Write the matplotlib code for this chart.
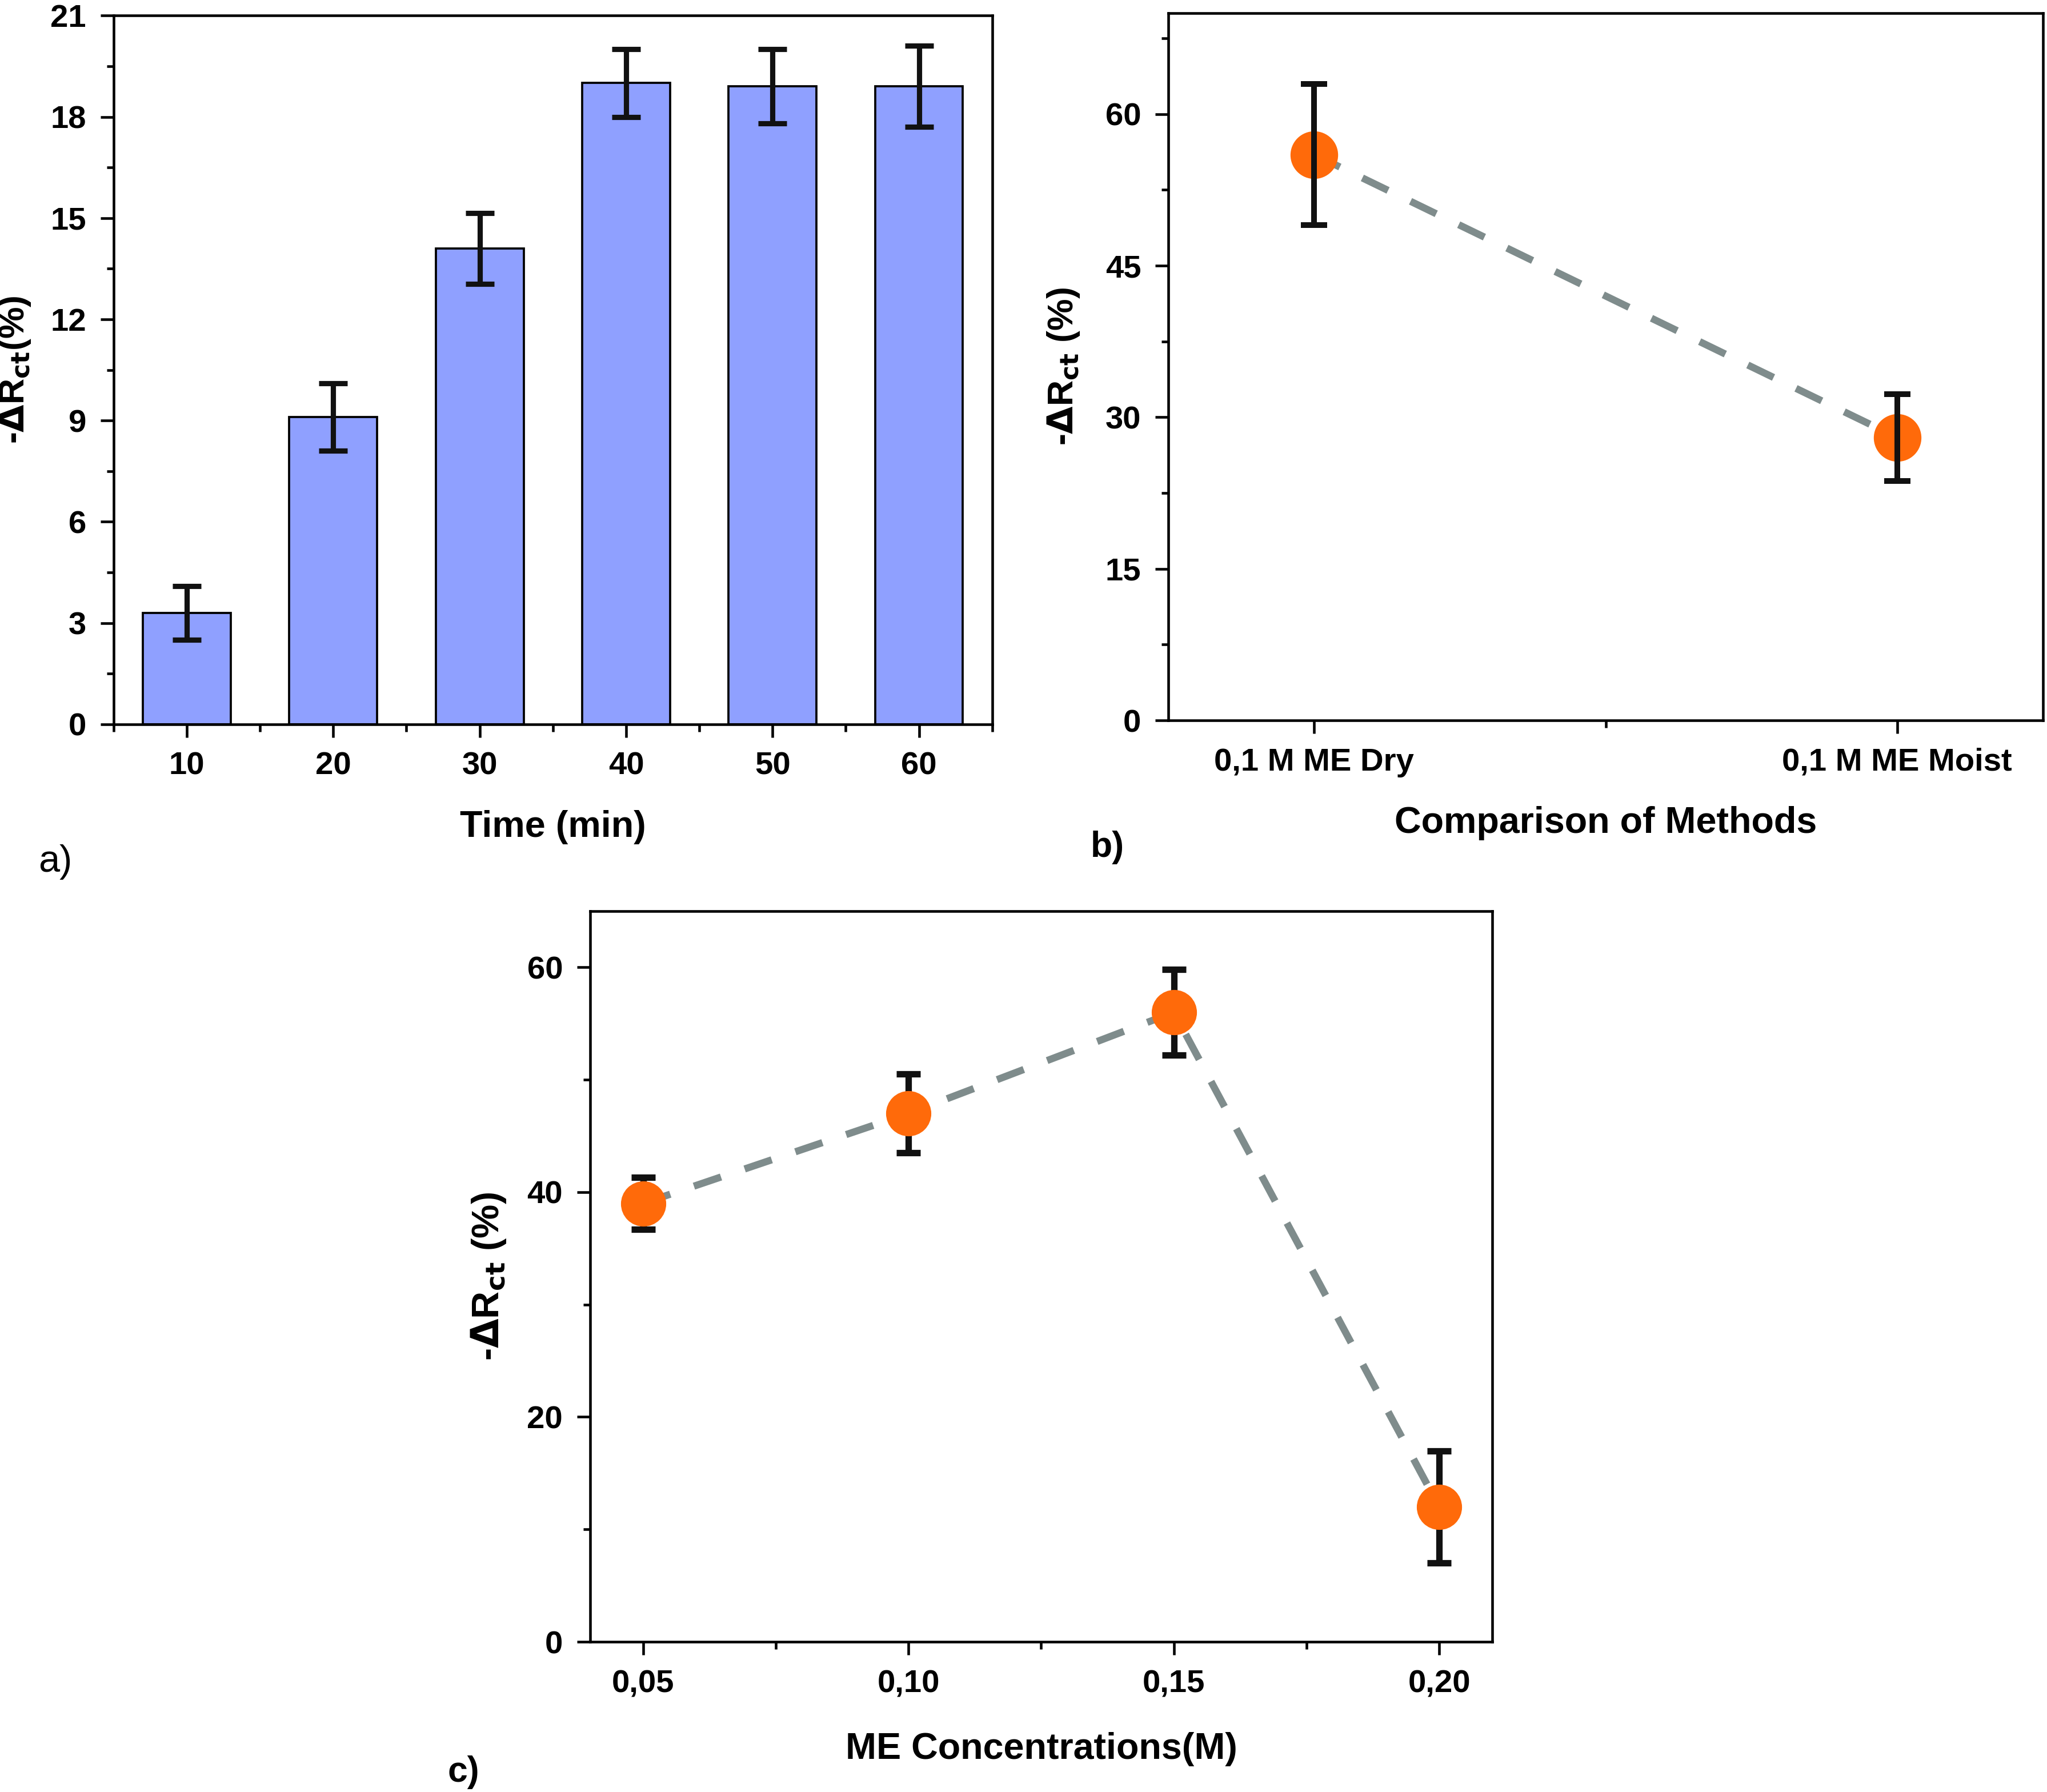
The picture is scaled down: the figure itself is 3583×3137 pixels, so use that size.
import numpy as np
import matplotlib.pyplot as plt
from matplotlib.ticker import MultipleLocator, FixedLocator

plt.rcParams['font.family'] = ['Liberation Sans', 'DejaVu Sans']
plt.rcParams['font.weight'] = 'bold'
plt.rcParams['mathtext.default'] = 'bf'

# panel a data
time_min = [10, 20, 30, 40, 50, 60]
rct_time = [3.3, 9.1, 14.1, 19.0, 18.9, 18.9]
rct_time_err = [0.8, 1.0, 1.05, 1.0, 1.1, 1.2]

# panel b data
methods = ['0,1 M ME Dry', '0,1 M ME Moist']
rct_method = [56, 28]
rct_method_err = [7.0, 4.3]

# panel c data
conc = [0.05, 0.10, 0.15, 0.20]
conc_labels = ['0,05', '0,10', '0,15', '0,20']
rct_conc = [39, 47, 56, 12]
rct_conc_err = [2.3, 3.5, 3.8, 5.0]

bar_color = '#8fa0ff'
dot_color = '#ff6a0a'
line_color = '#7f8c8c'

fig = plt.figure(figsize=(3583 / 300, 3137 / 300), dpi=300)

def style_axes(ax):
    for s in ax.spines.values():
        s.set_linewidth(1.1)
    ax.tick_params(which='major', direction='out', length=5.5, width=1.1, labelsize=13.5, pad=6)
    ax.tick_params(which='minor', direction='out', length=3, width=1.1)

# a) bars
ax1 = fig.add_axes([0.0555, 0.5958, 0.4292, 0.3955])
ax1.bar(time_min, rct_time, width=6, color=bar_color, edgecolor='black', linewidth=0.9, zorder=2)
ax1.errorbar(time_min, rct_time, yerr=rct_time_err, fmt='none', ecolor='#111111',
             elinewidth=2.2, capsize=6, capthick=2.2, zorder=3)
ax1.set_xlim(5, 65)
ax1.set_ylim(0, 21)
ax1.xaxis.set_major_locator(FixedLocator(time_min))
ax1.xaxis.set_minor_locator(MultipleLocator(10, offset=5))
ax1.yaxis.set_major_locator(MultipleLocator(3))
ax1.yaxis.set_minor_locator(MultipleLocator(1.5))
style_axes(ax1)
ax1.set_xlabel('Time (min)', fontsize=15.5, fontweight='bold', labelpad=12)
ax1.set_ylabel(r'-$\Delta$R$_{ct}$(%)', fontsize=15, fontweight='bold')
ax1.yaxis.set_label_coords(-0.092, 0.5)

# b) methods
ax2 = fig.add_axes([0.5708, 0.598, 0.4272, 0.3947])
xb = np.arange(len(methods))
ax2.plot(xb, rct_method, linestyle=(0, (4, 3.5)), color=line_color, linewidth=3.0, zorder=1)
ax2.plot(xb, rct_method, 'o', color=dot_color, markersize=19, zorder=2)
ax2.errorbar(xb, rct_method, yerr=rct_method_err, fmt='none', ecolor='#111111',
             elinewidth=2.4, capsize=5.5, capthick=2.4, zorder=3)
ax2.set_xlim(-0.25, 1.25)
ax2.set_ylim(0, 70)
ax2.set_xticks(xb)
ax2.set_xticklabels(methods)
ax2.xaxis.set_minor_locator(FixedLocator([0.5]))
ax2.yaxis.set_major_locator(MultipleLocator(15))
ax2.yaxis.set_minor_locator(MultipleLocator(7.5))
style_axes(ax2)
ax2.set_xlabel('Comparison of Methods', fontsize=15.5, fontweight='bold', labelpad=12)
ax2.set_ylabel(r'-$\Delta$R$_{ct}$ (%)', fontsize=15, fontweight='bold', labelpad=10)

# c) concentrations
ax3 = fig.add_axes([0.2883, 0.0838, 0.4407, 0.4078])
ax3.plot(conc, rct_conc, linestyle=(0, (4, 3.5)), color=line_color, linewidth=3.0, zorder=1)
ax3.errorbar(conc, rct_conc, yerr=rct_conc_err, fmt='none', ecolor='#111111',
             elinewidth=2.7, capsize=5, capthick=2.7, zorder=2)
ax3.plot(conc, rct_conc, 'o', color=dot_color, markersize=18, zorder=3)
ax3.set_xlim(0.04, 0.21)
ax3.set_ylim(0, 65)
ax3.set_xticks(conc)
ax3.set_xticklabels(conc_labels)
ax3.xaxis.set_minor_locator(FixedLocator([0.075, 0.125, 0.175]))
ax3.yaxis.set_major_locator(MultipleLocator(20))
ax3.yaxis.set_minor_locator(MultipleLocator(10))
style_axes(ax3)
ax3.set_xlabel('ME Concentrations(M)', fontsize=15.5, fontweight='bold', labelpad=14)
ax3.set_ylabel(r'-$\Delta$R$_{ct}$ (%)', fontsize=16, fontweight='bold', labelpad=8)

fig.text(0.027, 0.519, 'a)', fontsize=16, fontweight='normal', ha='center', va='center')
fig.text(0.541, 0.527, 'b)', fontsize=15, fontweight='bold', ha='center', va='center')
fig.text(0.2264, 0.011, 'c)', fontsize=15, fontweight='bold', ha='center', va='center')

fig.savefig('out.png', dpi=300)
